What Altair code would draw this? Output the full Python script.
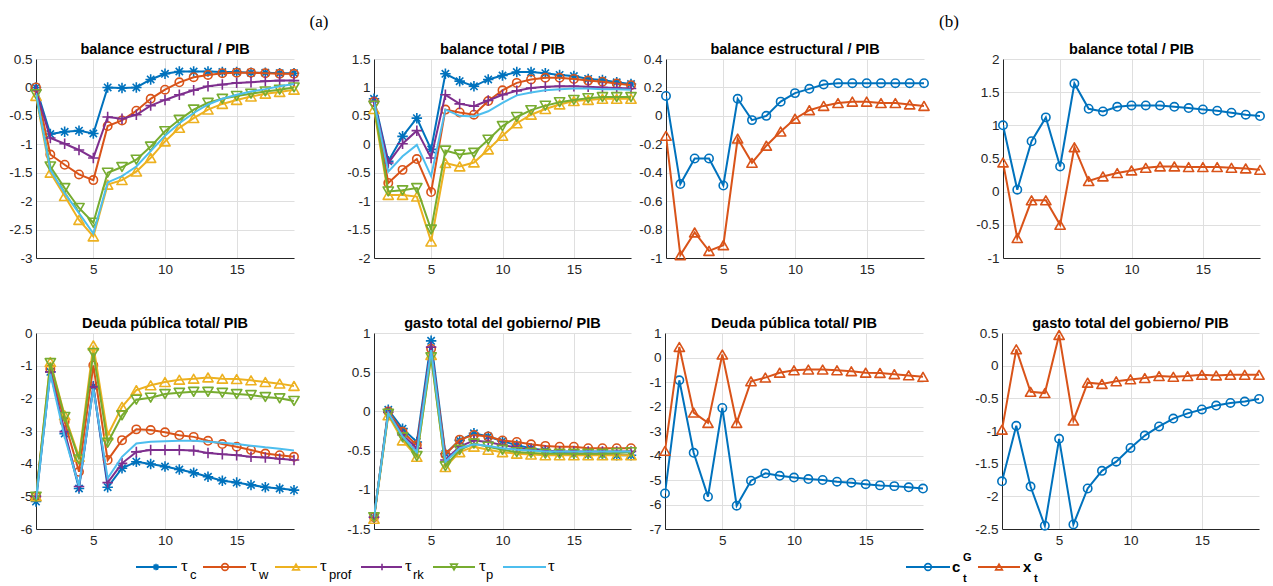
import altair as alt
import pandas as pd

steps = list(range(1, 20))

# ---- (a) one tax instrument at a time ---------------------------------
be_tc = [0.0, -0.82, -0.78, -0.76, -0.81, 0.0, -0.01, 0.0, 0.14, 0.24, 0.28, 0.28, 0.28, 0.27, 0.27, 0.26, 0.26, 0.25, 0.25]
be_tw = [0.0, -1.18, -1.36, -1.53, -1.63, -0.68, -0.58, -0.41, -0.2, -0.04, 0.09, 0.18, 0.22, 0.25, 0.26, 0.26, 0.25, 0.24, 0.24]
be_tprof = [-0.15, -1.5, -1.91, -2.33, -2.62, -1.71, -1.63, -1.48, -1.24, -0.95, -0.71, -0.54, -0.39, -0.29, -0.22, -0.16, -0.11, -0.08, -0.04]
be_trk = [-0.05, -0.89, -0.99, -1.1, -1.24, -0.52, -0.55, -0.48, -0.32, -0.22, -0.13, -0.05, 0.02, 0.05, 0.08, 0.09, 0.11, 0.12, 0.12]
be_tp = [-0.12, -1.39, -1.77, -2.12, -2.38, -1.5, -1.4, -1.27, -1.04, -0.77, -0.57, -0.39, -0.27, -0.2, -0.15, -0.11, -0.07, -0.04, 0.0]
be_t = [-0.1, -1.45, -1.86, -2.21, -2.57, -1.67, -1.56, -1.39, -1.12, -0.85, -0.63, -0.45, -0.3, -0.2, -0.13, -0.07, -0.03, 0.02, 0.06]

bt_tc = [0.8, -0.3, 0.14, 0.46, -0.09, 1.24, 1.11, 1.02, 1.14, 1.21, 1.27, 1.27, 1.25, 1.22, 1.2, 1.15, 1.13, 1.09, 1.06]
bt_tw = [0.75, -0.68, -0.45, -0.26, -0.84, 0.61, 0.56, 0.52, 0.76, 0.95, 1.08, 1.14, 1.17, 1.17, 1.15, 1.12, 1.1, 1.07, 1.04]
bt_tprof = [0.62, -0.89, -0.89, -0.92, -1.71, -0.33, -0.39, -0.32, -0.09, 0.15, 0.37, 0.52, 0.62, 0.7, 0.76, 0.78, 0.8, 0.8, 0.8]
bt_trk = [0.75, -0.33, 0.01, 0.24, -0.24, 0.87, 0.71, 0.67, 0.77, 0.87, 0.94, 0.99, 1.01, 1.02, 1.02, 1.01, 1.0, 0.99, 0.98]
bt_tp = [0.68, -0.83, -0.81, -0.77, -1.5, -0.11, -0.18, -0.15, 0.08, 0.32, 0.48, 0.6, 0.68, 0.74, 0.78, 0.81, 0.83, 0.83, 0.83]
bt_t = [0.75, -0.48, -0.21, -0.01, -0.56, 0.61, 0.5, 0.49, 0.58, 0.73, 0.86, 0.91, 0.95, 0.97, 0.98, 0.98, 0.97, 0.97, 0.96]

d_tc = [-5.16, -1.19, -3.08, -4.76, -1.63, -4.72, -4.14, -3.94, -4.01, -4.09, -4.18, -4.28, -4.4, -4.52, -4.58, -4.65, -4.72, -4.76, -4.81]
d_tw = [-5.0, -1.1, -2.72, -4.25, -0.99, -3.89, -3.28, -2.95, -2.97, -3.04, -3.13, -3.18, -3.3, -3.4, -3.48, -3.58, -3.69, -3.74, -3.79]
d_tprof = [-5.0, -0.89, -2.52, -3.79, -0.38, -3.13, -2.26, -1.75, -1.6, -1.5, -1.43, -1.4, -1.36, -1.4, -1.41, -1.45, -1.5, -1.55, -1.62]
d_trk = [-5.0, -1.19, -3.02, -4.7, -1.65, -4.58, -3.99, -3.64, -3.58, -3.58, -3.58, -3.6, -3.67, -3.71, -3.74, -3.79, -3.81, -3.85, -3.89]
d_tp = [-5.01, -0.92, -2.57, -3.87, -0.61, -3.36, -2.52, -2.04, -1.98, -1.87, -1.83, -1.8, -1.8, -1.83, -1.87, -1.9, -1.96, -2.0, -2.08]
d_t = [-5.1, -1.25, -3.18, -4.68, -1.7, -4.45, -3.79, -3.38, -3.33, -3.31, -3.3, -3.3, -3.33, -3.36, -3.4, -3.45, -3.5, -3.54, -3.6]

g_tc = [-1.35, 0.02, -0.22, -0.39, 0.9, -0.54, -0.37, -0.28, -0.32, -0.38, -0.43, -0.47, -0.5, -0.53, -0.54, -0.55, -0.55, -0.56, -0.56]
g_tw = [-1.35, 0.0, -0.26, -0.43, 0.8, -0.55, -0.36, -0.3, -0.32, -0.37, -0.39, -0.42, -0.44, -0.45, -0.45, -0.47, -0.47, -0.47, -0.47]
g_tprof = [-1.37, -0.05, -0.37, -0.58, 0.72, -0.71, -0.52, -0.45, -0.49, -0.52, -0.54, -0.55, -0.56, -0.56, -0.56, -0.56, -0.56, -0.56, -0.56]
g_trk = [-1.35, -0.01, -0.3, -0.47, 0.82, -0.62, -0.45, -0.37, -0.39, -0.43, -0.46, -0.49, -0.5, -0.51, -0.51, -0.51, -0.51, -0.51, -0.51]
g_tp = [-1.35, -0.03, -0.33, -0.57, 0.69, -0.7, -0.49, -0.41, -0.45, -0.49, -0.52, -0.53, -0.54, -0.54, -0.54, -0.54, -0.54, -0.53, -0.52]
g_t = [-1.35, -0.02, -0.32, -0.52, 0.78, -0.64, -0.47, -0.42, -0.44, -0.47, -0.49, -0.5, -0.51, -0.51, -0.51, -0.51, -0.51, -0.51, -0.51]

# ---- (b) government consumption vs. investment -------------------------
be_c = [0.14, -0.48, -0.3, -0.3, -0.49, 0.12, -0.03, 0.0, 0.1, 0.16, 0.19, 0.22, 0.23, 0.23, 0.23, 0.23, 0.23, 0.23, 0.23]
be_x = [-0.14, -0.98, -0.82, -0.95, -0.91, -0.16, -0.33, -0.21, -0.11, -0.02, 0.04, 0.07, 0.09, 0.1, 0.1, 0.09, 0.09, 0.08, 0.07]
bt_c = [1.0, 0.03, 0.76, 1.12, 0.38, 1.63, 1.25, 1.21, 1.28, 1.3, 1.3, 1.3, 1.28, 1.26, 1.24, 1.22, 1.19, 1.16, 1.14]
bt_x = [0.44, -0.7, -0.13, -0.13, -0.5, 0.67, 0.16, 0.23, 0.28, 0.32, 0.36, 0.38, 0.38, 0.37, 0.37, 0.37, 0.36, 0.35, 0.33]
d_c = [-5.55, -0.93, -3.89, -5.68, -2.06, -6.05, -5.03, -4.73, -4.83, -4.9, -4.96, -5.0, -5.07, -5.11, -5.17, -5.22, -5.25, -5.3, -5.35]
d_x = [-3.81, 0.43, -2.25, -2.67, 0.12, -2.67, -0.97, -0.82, -0.62, -0.52, -0.49, -0.49, -0.52, -0.56, -0.62, -0.63, -0.68, -0.73, -0.79]
g_c = [-1.77, -0.92, -1.85, -2.45, -1.12, -2.43, -1.88, -1.61, -1.47, -1.26, -1.07, -0.93, -0.81, -0.73, -0.67, -0.61, -0.57, -0.55, -0.51]
g_x = [-0.98, 0.25, -0.4, -0.42, 0.47, -0.84, -0.26, -0.28, -0.24, -0.21, -0.19, -0.16, -0.17, -0.16, -0.14, -0.15, -0.14, -0.14, -0.14]

# ---- styling -----------------------------------------------------------
ASTERISK = "M-1,0L1,0M0,-1L0,1M-0.7,-0.7L0.7,0.7M-0.7,0.7L0.7,-0.7"
PLUS = "M-1,0L1,0M0,-1L0,1"
STYLE = {
    "tau_c": ("#0072BD", ASTERISK, 110),
    "tau_w": ("#D95319", "circle", 70),
    "tau_prof": ("#EDB120", "triangle-up", 105),
    "tau_rk": ("#7E2F8E", PLUS, 110),
    "tau_p": ("#77AC30", "triangle-down", 105),
    "tau": ("#4DBEEE", None, 0),
    "cG": ("#0072BD", "circle", 70),
    "xG": ("#D95319", "triangle-up", 105),
}
SANS = "Liberation Sans"
SERIF = "Liberation Serif"
INK = "#262626"


def panel(title, series, domain, ticks, width, height, y_extent, x_extent):
    x_enc = alt.X("t:Q", title=None,
                  scale=alt.Scale(domain=[1, 19], nice=False, zero=False),
                  axis=alt.Axis(values=[5, 10, 15], minExtent=x_extent, labelFlush=False))
    y_enc = alt.Y("v:Q", title=None,
                  scale=alt.Scale(domain=domain, nice=False, zero=False),
                  axis=alt.Axis(values=ticks, labelExpr="'' + datum.value",
                                minExtent=y_extent, labelFlush=False))
    layers = []
    for key, values in series:
        color, shape, size = STYLE[key]
        base = alt.Chart(pd.DataFrame({"t": steps, "v": values}))
        layers.append(base.mark_line(color=color, strokeWidth=2, clip=True)
                      .encode(x=x_enc, y=y_enc))
        if shape:
            # markers are drawn whole, even where they overlap the axes
            layers.append(base.mark_point(shape=shape, color=color, filled=False,
                                          size=size, strokeWidth=1.6, strokeJoin="round",
                                          opacity=1)
                          .encode(x=x_enc, y=y_enc))
    return alt.layer(*layers).properties(
        width=width, height=height,
        title=alt.TitleParams(title, font=SANS, fontSize=14.5, fontWeight="bold",
                              color="#000000", frame="group", anchor="middle",
                              baseline="alphabetic", offset=-16))


def tax_series(tc, tw, tprof, trk, tp, t):
    return [("tau_c", tc), ("tau_w", tw), ("tau_prof", tprof),
            ("tau_rk", trk), ("tau_p", tp), ("tau", t)]


W1, W2 = 258, 257
H1, H2 = 199, 196
XE1, XE2 = 52, 18
YE_OUTER, YE_INNER = 32, 27   # y-axis room for the first / third column
YE_GAP = 73                    # y-axis room that also opens the gap before columns 2 and 4

p1 = panel("balance estructural / PIB",
           tax_series(be_tc, be_tw, be_tprof, be_trk, be_tp, be_t),
           [-3, 0.5], [-3, -2.5, -2, -1.5, -1, -0.5, 0, 0.5], W1, H1, YE_OUTER, XE1)
p2 = panel("balance total / PIB",
           tax_series(bt_tc, bt_tw, bt_tprof, bt_trk, bt_tp, bt_t),
           [-2, 1.5], [-2, -1.5, -1, -0.5, 0, 0.5, 1, 1.5], W2, H1, YE_GAP, XE1)
p3 = panel("balance estructural / PIB", [("cG", be_c), ("xG", be_x)],
           [-1, 0.4], [-1, -0.8, -0.6, -0.4, -0.2, 0, 0.2, 0.4], W1, H1, YE_INNER, XE1)
p4 = panel("balance total / PIB", [("cG", bt_c), ("xG", bt_x)],
           [-1, 2], [-1, -0.5, 0, 0.5, 1, 1.5, 2], W2, H1, YE_GAP, XE1)

p5 = panel("Deuda pública total/ PIB",
           tax_series(d_tc, d_tw, d_tprof, d_trk, d_tp, d_t),
           [-6, 0], [-6, -5, -4, -3, -2, -1, 0], W1, H2, YE_OUTER, XE2)
p6 = panel("gasto total del gobierno/ PIB",
           tax_series(g_tc, g_tw, g_tprof, g_trk, g_tp, g_t),
           [-1.5, 1], [-1.5, -1, -0.5, 0, 0.5, 1], W2, H2, YE_GAP, XE2)
p7 = panel("Deuda pública total/ PIB", [("cG", d_c), ("xG", d_x)],
           [-7, 1], [-7, -6, -5, -4, -3, -2, -1, 0, 1], W1, H2, YE_INNER, XE2)
p8 = panel("gasto total del gobierno/ PIB", [("cG", g_c), ("xG", g_x)],
           [-2.5, 0.5], [-2.5, -2, -1.5, -1, -0.5, 0, 0.5], W2, H2, YE_GAP, XE2)

# ---- header with the panel-group labels --------------------------------
ROW_W = 1225
px = alt.Scale(domain=[0, ROW_W], range=[0, ROW_W], nice=False, zero=False)

header = alt.Chart(pd.DataFrame({"x": [283, 913], "label": ["(a)", "(b)"]})).mark_text(
    font=SERIF, fontSize=17, align="center", baseline="middle", color="#000000"
).encode(x=alt.X("x:Q", scale=px, axis=None), y=alt.value(22), text="label:N"
).properties(width=ROW_W, height=36)

# ---- legend row -------------------------------------------------------
leg_keys = ["tau_c", "tau_w", "tau_prof", "tau_rk", "tau_p", "tau", "cG", "xG"]
leg_from = [100, 167, 239, 325, 397, 467, 870, 942]
leg_to = [141, 210, 281, 366, 439, 510, 914, 984]
leg_mid = [120, 189, 260, 346, 418, 488, 892, 963]

leg_df = pd.DataFrame({"key": leg_keys, "x0": leg_from, "x1": leg_to, "xm": leg_mid})
color_scale = alt.Scale(domain=leg_keys, range=[STYLE[k][0] for k in leg_keys])
shape_scale = alt.Scale(domain=leg_keys, range=[STYLE[k][1] or "circle" for k in leg_keys])

LINE_Y = 14
leg_lines = alt.Chart(leg_df).mark_rule(strokeWidth=2).encode(
    x=alt.X("x0:Q", scale=px, axis=None), x2="x1:Q", y=alt.value(LINE_Y),
    color=alt.Color("key:N", scale=color_scale, legend=None))
leg_marks = alt.Chart(leg_df[leg_df["key"] != "tau"]).mark_point(
    filled=False, size=45, strokeWidth=1.6, opacity=1).encode(
    x=alt.X("xm:Q", scale=px, axis=None), y=alt.value(LINE_Y),
    color=alt.Color("key:N", scale=color_scale, legend=None),
    shape=alt.Shape("key:N", scale=shape_scale, legend=None))

tau_x = [145, 214, 284, 369, 443, 512]
sub_x = [154, 223, 293, 377, 450]
sub_text = ["c", "w", "prof", "rk", "p"]
gov_x = [916, 987]
gov_text = ["c", "x"]
gov_idx_x = [927, 998]


def legend_text(xs, texts, y, font, size, weight="normal"):
    return alt.Chart(pd.DataFrame({"x": xs, "s": texts})).mark_text(
        font=font, fontSize=size, fontWeight=weight, align="left",
        baseline="alphabetic", color="#000000"
    ).encode(x=alt.X("x:Q", scale=px, axis=None), y=alt.value(y), text="s:N")


legend = alt.layer(
    leg_lines, leg_marks,
    legend_text(tau_x, ["τ"] * 6, LINE_Y + 4, SERIF, 17),
    legend_text(sub_x, sub_text, LINE_Y + 12, SANS, 13),
    legend_text(gov_x, gov_text, LINE_Y + 5, SANS, 15, "bold"),
    legend_text(gov_idx_x, ["G", "G"], LINE_Y - 6, SANS, 11, "bold"),
    legend_text(gov_idx_x, ["t", "t"], LINE_Y + 15, SANS, 11, "bold"),
).properties(width=ROW_W, height=31)

row1 = alt.hconcat(p1, p2, p3, p4, spacing=0)
row2 = alt.hconcat(p5, p6, p7, p8, spacing=0)

chart = alt.vconcat(header, row1, row2, legend, spacing=5).properties(
    padding={"left": 4, "top": 0, "right": 0, "bottom": 0}
).configure_view(stroke=None).configure_axis(
    domainColor=INK, domainWidth=1, gridColor="#dfdfdf", gridWidth=1,
    labelFont=SANS, labelFontSize=13.5, labelColor=INK, labelPadding=4,
    ticks=False
)

chart.save("out.html", embed_options={"renderer": "svg", "actions": False})
